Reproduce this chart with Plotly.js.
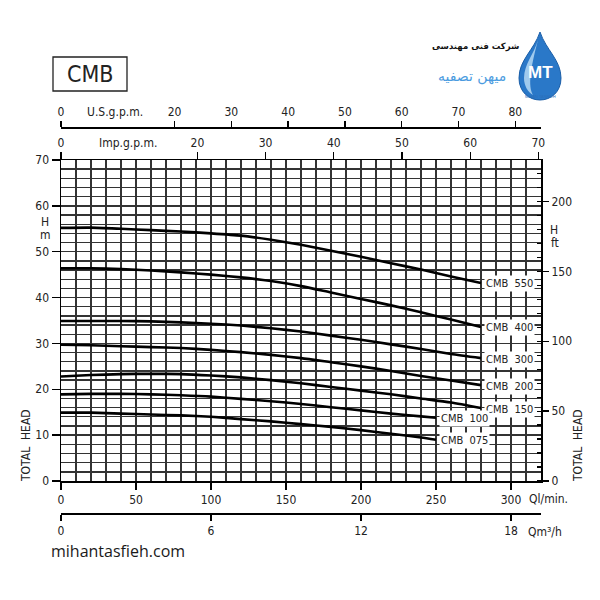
<!DOCTYPE html>
<html>
<head>
<meta charset="utf-8">
<script src="https://cdn.plot.ly/plotly-3.0.1.min.js"></script>
<style>html,body{margin:0;padding:0;background:#fff;}#chart{width:600px;height:600px;}</style>
</head>
<body>
<div id="chart"></div>
<script>
// ---- data (flow in l/min, head in m) ----
const qLong = [0, 20, 40, 60, 80, 100, 120, 140, 160, 180, 200, 220, 240, 260, 280];
const qShort = [0, 20, 40, 60, 80, 100, 120, 140, 160, 180, 200, 220, 240, 250];

const hCMB550 = [55.2, 55.25, 55.0, 54.7, 54.4, 54.0, 53.5, 52.6, 51.5, 50.2, 48.9, 47.5, 46.1, 44.6, 43.2];
const hCMB400 = [46.4, 46.4, 46.2, 45.9, 45.5, 45.0, 44.4, 43.6, 42.5, 41.1, 39.7, 38.3, 36.8, 35.2, 33.6];
const hCMB300 = [34.9, 34.9, 34.9, 34.8, 34.6, 34.3, 33.9, 33.3, 32.6, 31.7, 30.8, 29.8, 28.8, 27.7, 26.8];
const hCMB200 = [29.7, 29.6, 29.4, 29.2, 29.0, 28.6, 28.1, 27.5, 26.8, 25.9, 25.0, 24.0, 22.9, 21.9, 20.9];
const hCMB150 = [22.8, 23.1, 23.3, 23.4, 23.3, 23.0, 22.6, 22.0, 21.3, 20.5, 19.7, 18.9, 18.0, 17.1, 15.9];
const hCMB100 = [18.9, 19.0, 19.0, 18.9, 18.7, 18.4, 17.9, 17.4, 16.8, 16.1, 15.4, 14.7, 14.1, 13.8];
const hCMB075 = [14.9, 14.9, 14.7, 14.5, 14.3, 14.0, 13.5, 13.0, 12.4, 11.8, 11.1, 10.3, 9.5, 9.0];

const seriesNames = ["CMB  550", "CMB  400", "CMB  300", "CMB  200", "CMB  150", "CMB  100", "CMB  075"];

// tick labels
const lminTicks = [0, 50, 100, 150, 200, 250, 300];
const usgpmTicks = [0, 20, 30, 40, 50, 60, 70, 80];
const impgpmTicks = [0, 20, 30, 40, 50, 60, 70];
const m3hTicks = [0, 6, 12, 18];

// ---- helpers ----
const W = 600, H = 600;
const px = x => x / W;
const py = y => 1 - y / H;
const FONT = "DejaVu Sans Condensed, Liberation Sans Narrow, sans-serif";
const INK = "#222";

const series = [
  [qLong, hCMB550], [qLong, hCMB400], [qLong, hCMB300], [qLong, hCMB200],
  [qLong, hCMB150], [qShort, hCMB100], [qShort, hCMB075]
];

const traces = series.map((s, i) => ({
  type: "scatter", mode: "lines", x: s[0], y: s[1],
  xaxis: "x", yaxis: "y",
  line: {color: "#000", width: 2.6, shape: "spline", smoothing: 0.6},
  hoverinfo: "skip", name: seriesNames[i]
}));

// invisible traces to activate overlay axes
traces.push({type: "scatter", x: [0], y: [0], xaxis: "x2", yaxis: "y", mode: "markers", marker: {opacity: 0}, hoverinfo: "skip"});
traces.push({type: "scatter", x: [0], y: [0], xaxis: "x3", yaxis: "y", mode: "markers", marker: {opacity: 0}, hoverinfo: "skip"});
traces.push({type: "scatter", x: [0], y: [0], xaxis: "x4", yaxis: "y", mode: "markers", marker: {opacity: 0}, hoverinfo: "skip"});
traces.push({type: "scatter", x: [0], y: [0], xaxis: "x", yaxis: "y2", mode: "markers", marker: {opacity: 0}, hoverinfo: "skip"});

const QMAX = 320;
const HMAX = 70;
const tickFont = {family: FONT, size: 12, color: INK};

const layout = {
  width: W, height: H,
  margin: {l: 0, r: 0, t: 0, b: 0},
  paper_bgcolor: "#fff", plot_bgcolor: "#fff",
  showlegend: false,
  font: {family: FONT, color: INK},
  xaxis: {
    domain: [px(61), px(541)], range: [0, QMAX], anchor: "y",
    tickmode: "array", tickvals: lminTicks, ticktext: lminTicks.map(String),
    ticks: "outside", ticklen: 7, tickwidth: 1.3, tickcolor: "#000",
    tickfont: tickFont,
    showgrid: true, gridcolor: "#333", gridwidth: 1.4,
    minor: {tickmode: "linear", tick0: 0, dtick: 10, showgrid: true, gridcolor: "#333", gridwidth: 1.4, ticks: ""},
    showline: true, mirror: true, linecolor: "#000", linewidth: 1.5,
    zeroline: false, fixedrange: true
  },
  yaxis: {
    domain: [py(481), py(160)], range: [0, HMAX], anchor: "x",
    tickmode: "linear", tick0: 0, dtick: 10,
    ticks: "outside", ticklen: 8, tickwidth: 1.3, tickcolor: "#000",
    tickfont: tickFont,
    showgrid: true, gridcolor: "#333", gridwidth: 1.4,
    minor: {tickmode: "linear", tick0: 0, dtick: 2, showgrid: true, gridcolor: "#333", gridwidth: 1.4, ticks: ""},
    showline: true, mirror: true, linecolor: "#000", linewidth: 1.5,
    zeroline: false, fixedrange: true
  },
  yaxis2: {
    overlaying: "y", side: "right", anchor: "x",
    range: [0, HMAX / 0.3048],
    tickmode: "linear", tick0: 0, dtick: 50,
    ticks: "outside", ticklen: 7, tickwidth: 1.3, tickcolor: "#000",
    tickfont: tickFont, showgrid: false, zeroline: false, showline: false,
    minor: {tickmode: "linear", tick0: 0, dtick: 10, ticks: "inside", ticklen: 4, tickwidth: 1.2, tickcolor: "#000", showgrid: false},
    fixedrange: true
  },
  xaxis2: {
    overlaying: "x", side: "top", anchor: "free", position: py(127),
    range: [0, QMAX / 3.785411784],
    tickmode: "array", tickvals: usgpmTicks, ticktext: usgpmTicks.map(String),
    ticks: "outside", ticklen: 6, tickwidth: 1.3, tickcolor: "#000",
    tickfont: tickFont, showgrid: false, zeroline: false,
    showline: true, linecolor: "#000", linewidth: 1.5, fixedrange: true
  },
  xaxis3: {
    overlaying: "x", side: "top", anchor: "y",
    range: [0, QMAX / 4.54609],
    tickmode: "array", tickvals: impgpmTicks, ticktext: impgpmTicks.map(String),
    ticks: "outside", ticklen: 7, tickwidth: 1.3, tickcolor: "#000",
    tickfont: tickFont, showgrid: false, zeroline: false, showline: false, fixedrange: true
  },
  xaxis4: {
    overlaying: "x", side: "bottom", anchor: "free", position: py(513),
    range: [0, QMAX * 0.06],
    tickmode: "array", tickvals: m3hTicks, ticktext: m3hTicks.map(String),
    ticks: "outside", ticklen: 6, tickwidth: 1.3, tickcolor: "#000",
    tickfont: tickFont, showgrid: false, zeroline: false,
    showline: true, linecolor: "#000", linewidth: 1.5, fixedrange: true
  },
  shapes: [],
  annotations: []
};

// curve labels at the end of each curve
series.forEach((s, i) => {
  const q = s[0], h = s[1];
  layout.annotations.push({
    xref: "x", yref: "y", x: q[q.length - 1], y: h[h.length - 1],
    text: seriesNames[i], showarrow: false, xanchor: "left", yanchor: "middle",
    xshift: 3, yshift: -1,
    bgcolor: "#fff", borderpad: 1,
    font: {family: FONT, size: 11, color: INK}
  });
});

const paperText = (x, y, text, opts) => Object.assign({
  xref: "paper", yref: "paper", x: px(x), y: py(y), text: text, showarrow: false,
  xanchor: "center", yanchor: "middle", font: {family: FONT, size: 12, color: INK}
}, opts || {});

layout.annotations.push(
  paperText(85, 112, "U.S.g.p.m.", {xanchor: "left"}),
  paperText(97, 143, "Imp.g.p.m.", {xanchor: "left"}),
  paperText(548, 499, "Ql/min.", {xanchor: "center"}),
  paperText(545, 532, "Qm³/h"),
  paperText(45, 222, "H"),
  paperText(45, 235, "m"),
  paperText(554, 230, "H"),
  paperText(555, 243, "ft"),
  paperText(26, 446, "TOTAL  HEAD", {textangle: -90}),
  paperText(578, 446, "TOTAL  HEAD", {textangle: -90}),
  paperText(90, 74, "CMB", {font: {family: "DejaVu Sans Condensed, sans-serif", size: 23, color: "#222"}}),
  paperText(118, 551, "mihantasfieh.com", {font: {family: "Open Sans, sans-serif", size: 16, color: "#1a1a1a"}}),
  paperText(475, 46, "شرکت فنی مهندسی", {font: {family: "DejaVu Sans, sans-serif", size: 8.5, color: "#111", weight: "bold"}}),
  paperText(472, 76, "میهن تصفیه", {font: {family: "DejaVu Sans, sans-serif", size: 14, color: "#4a9be0"}}),
  paperText(540, 72, "<b>MT</b>", {font: {family: "Liberation Sans, Arial, sans-serif", size: 17, color: "#fff"}}),
  paperText(540, 97, "MIHAN TASFIEH", {font: {family: "Liberation Sans, sans-serif", size: 4, color: "#2a6fba"}})
);

// CMB box
layout.shapes.push({type: "rect", xref: "paper", yref: "paper", x0: px(53), x1: px(127), y0: py(91), y1: py(57),
  line: {color: "#222", width: 1.3}, fillcolor: "rgba(0,0,0,0)"});

// droplet logo
const pathFrom = pts => pts.map(seg => seg[0] + " " + seg.slice(1).reduce((acc, v, k) => acc.concat(k % 2 === 0 ? px(v) : py(v)), []).join(",")).join(" ") + " Z";
const drop = pathFrom([
  ["M", 540, 32],
  ["C", 546, 50, 561, 60, 561, 78],
  ["C", 561, 92, 551, 100, 540, 100],
  ["C", 529, 100, 519, 92, 519, 78],
  ["C", 519, 60, 534, 50, 540, 32]
]);
const dropHi = pathFrom([
  ["M", 538, 40],
  ["C", 534, 54, 524, 64, 524, 78],
  ["C", 524, 86, 528, 92, 533, 95],
  ["C", 528, 86, 530, 70, 538, 40]
]);
layout.shapes.push({type: "path", xref: "paper", yref: "paper", path: drop, fillcolor: "#2a78c8", line: {color: "#1c5fa8", width: 1}});
layout.shapes.push({type: "path", xref: "paper", yref: "paper", path: dropHi, fillcolor: "rgba(200,230,250,0.75)", line: {width: 0}});

Plotly.newPlot("chart", traces, layout, {staticPlot: true, displayModeBar: false});
</script>
</body>
</html>
